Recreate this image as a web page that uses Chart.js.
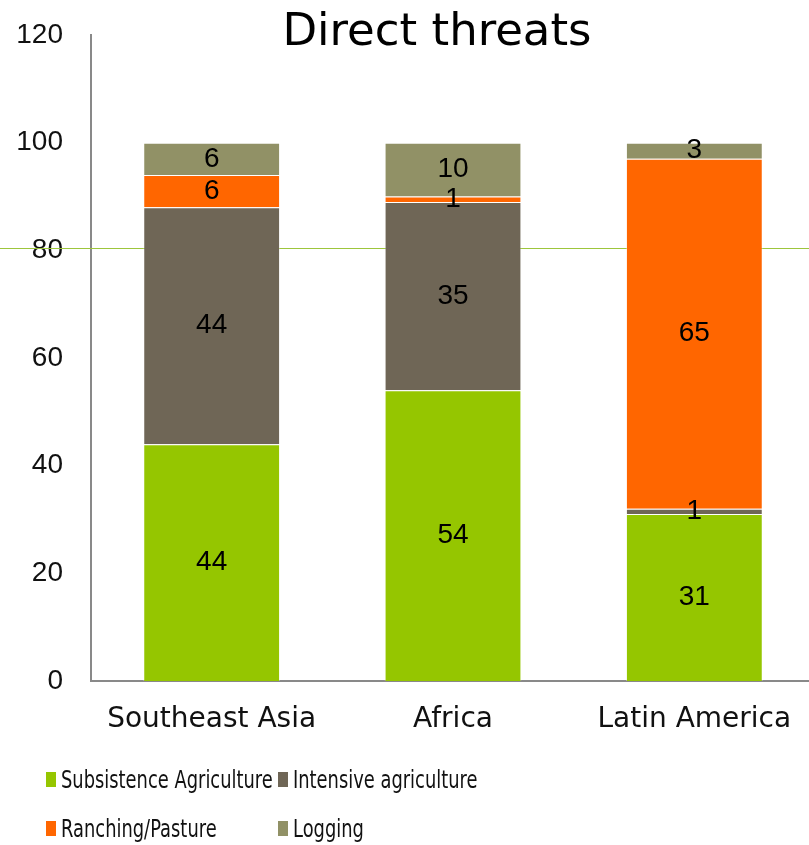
<!DOCTYPE html>
<html>
<head>
<meta charset="utf-8">
<script src="https://cdn.jsdelivr.net/npm/chart.js@4"></script>
<style>
  html, body { margin:0; padding:0; background:#fff; overflow:hidden; }
  #wrap { position:relative; width:816px; height:845px; }
  #title { position:absolute; left:0; width:874px; top:3px; text-align:center;
           font-family:'DejaVu Sans', sans-serif; font-size:45px; color:#000; }
  #legend { position:absolute; left:46px; top:765px; width:760px;
            font-family:'DejaVu Sans', sans-serif; font-size:25px; color:#111; }
  .item { position:absolute; white-space:nowrap; display:flex; align-items:center; }
  .box { width:10px; height:15px; margin-right:5px; flex:none; }
  .txt { display:inline-block; transform:scaleX(0.715); transform-origin:left center; }
</style>
</head>
<body>
<div id="wrap">
  <canvas id="chart" width="816" height="845"></canvas>
  <div id="title">Direct threats</div>
  <div id="legend"></div>
</div>
<script>
const regions = ['Southeast Asia', 'Africa', 'Latin America'];
const subsistence = [44, 54, 31];
const intensive = [44, 35, 1];
const ranching = [6, 1, 65];
const logging = [6, 10, 3];
const yTicks = [0, 20, 40, 60, 80, 100, 120];

const FONT = "'DejaVu Sans', sans-serif";
const NUMFONT = "'Liberation Sans', sans-serif";

// slide decoration: thin green rule behind the bars near the 80 level
const ruleLine = {
  id: 'ruleLine',
  beforeDatasetsDraw(chart){
    const y = Math.round(chart.scales.y.getPixelForValue(80.5)) + 0.5;
    const c = chart.ctx;
    c.save();
    c.strokeStyle = '#9dc63c';
    c.lineWidth = 1;
    c.beginPath(); c.moveTo(0, y); c.lineTo(chart.width, y); c.stroke();
    c.restore();
  }
};

// value labels centred in each segment
const segLabels = {
  id: 'segLabels',
  afterDatasetsDraw(chart){
    const c = chart.ctx;
    c.save();
    c.font = '28px ' + NUMFONT;
    c.fillStyle = '#000';
    c.textAlign = 'center';
    c.textBaseline = 'middle';
    chart.data.datasets.forEach((ds, i) => {
      chart.getDatasetMeta(i).data.forEach((bar, j) => {
        c.fillText(String(ds.data[j]), bar.x, (bar.y + bar.base) / 2);
      });
    });
    c.restore();
  }
};

const chart = new Chart(document.getElementById('chart'), {
  type: 'bar',
  data: {
    labels: regions,
    datasets: [
      { label:'Subsistence Agriculture', data:subsistence, backgroundColor:'#95c600' },
      { label:'Intensive agriculture', data:intensive, backgroundColor:'#6f6656' },
      { label:'Ranching/Pasture', data:ranching, backgroundColor:'#ff6600' },
      { label:'Logging', data:logging, backgroundColor:'#919166' }
    ].map(d => ({ ...d, borderColor:'rgba(255,255,255,0.35)', borderWidth:1,
                  barPercentage:0.567, categoryPercentage:1 }))
  },
  options: {
    responsive: false,
    animation: false,
    layout: { padding: { top: 35, right: 1, bottom: 94, left: 0 } },
    plugins: { legend: { display:false }, title: { display:false }, tooltip: { enabled:false } },
    scales: {
      x: {
        stacked: true,
        grid: { display:false, drawTicks:false },
        border: { display:true, color:'#898989', width:2 },
        ticks: { color:'#111', font:{ family:FONT, size:28 }, padding:22, maxRotation:0 },
        afterFit(s){ s.height = 70; s.paddingLeft = 0; s.paddingRight = 0; }
      },
      y: {
        stacked: true,
        min: 0, max: 120,
        grid: { display:false, drawTicks:false },
        border: { display:true, color:'#898989', width:2 },
        afterBuildTicks(s){ s.ticks = yTicks.map(v => ({ value:v })); },
        ticks: { color:'#111', font:{ family:NUMFONT, size:28 }, padding:28 },
        afterFit(s){ s.width = 91; s.paddingTop = 0; s.paddingBottom = 0; }
      }
    }
  },
  plugins: [ruleLine, segLabels]
});

// html legend in two aligned columns
const legend = document.getElementById('legend');
const cols = [0, 232];
chart.data.datasets.forEach((ds, i) => {
  const el = document.createElement('div');
  el.className = 'item';
  el.style.left = cols[i % 2] + 'px';
  el.style.top = (Math.floor(i / 2) * 49) + 'px';
  el.innerHTML = '<span class="box" style="background:' + ds.backgroundColor + '"></span>' +
                 '<span class="txt">' + ds.label + '</span>';
  legend.appendChild(el);
});
</script>
</body>
</html>
